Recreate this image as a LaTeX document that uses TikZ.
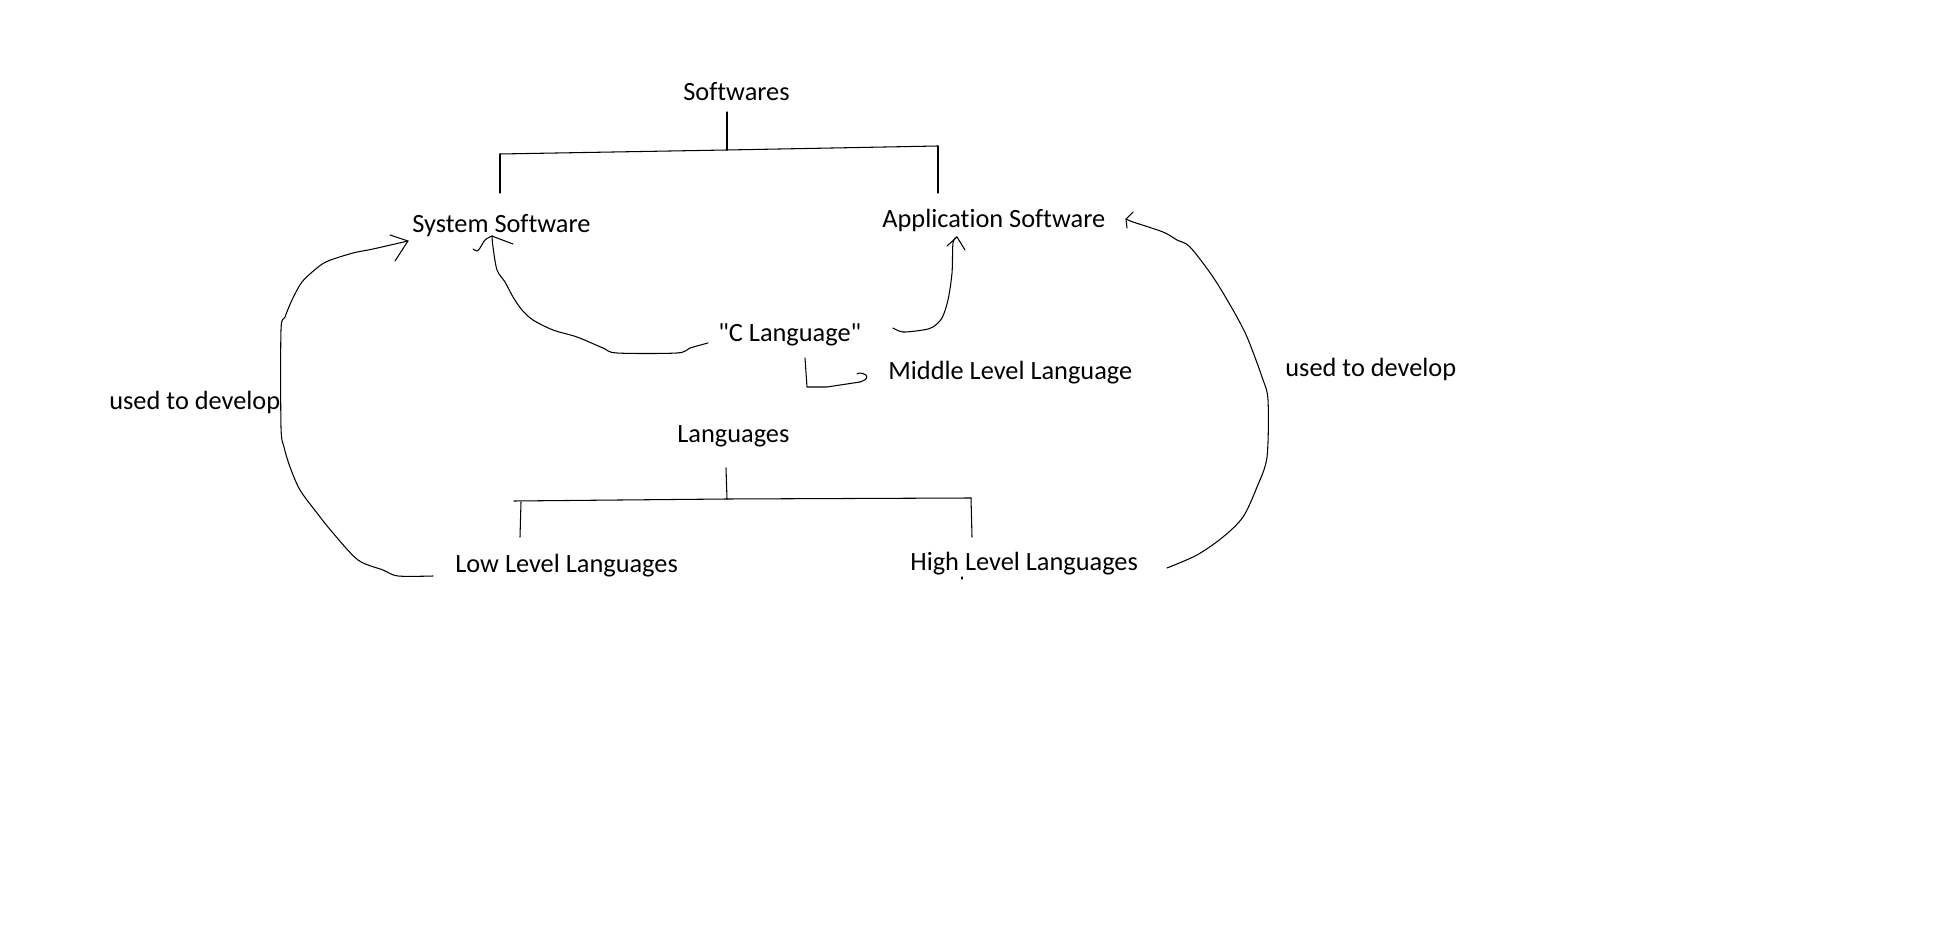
\documentclass[tikz,border=0pt]{standalone}
\usepackage{fontspec}
\setmainfont{Carlito}[Ligatures={TeXOff,NoCommon}]
\begin{document}
\begin{tikzpicture}[x=0.02cm,y=-0.02cm,
  lbl/.style={anchor=base west,inner sep=0pt,font=\fontsize{15pt}{18pt}\selectfont},
  ink/.style={line width=0.6pt,black,line join=round,line cap=round}]
\useasboundingbox (0,0) rectangle (1940,928);
% texts
\node[lbl] (soft) at (683,101) {Softwares};
\node[lbl] (sys) at (412,233) {System Software};
\node[lbl] (app) at (882,228) {Application Software};
\node[lbl] (clang) at (718,342) {"C Language"};
\node[lbl] (mid) at (888,380) {Middle Level Language};
\node[lbl] (lang) at (677,443) {Languages};
\node[lbl] (low) at (455,573) {Low Level Languages};
\node[lbl] (high) at (910,571) {High Level Languages};
\node[lbl] (udl) at (109,410) {used to develop};
\node[lbl] (udr) at (1285,377) {used to develop};
% software tree
\coordinate (sT) at (727,112); \coordinate (sM) at (727,150);
\coordinate (sL) at (500,154); \coordinate (sR) at (938,146);
\draw[ink] (sT) -- (sM);
\draw[ink] (sL) -- (sM) -- (sR);
\draw[ink] (sL) -- (500,193);
\draw[ink] (sR) -- (938,193);
% languages tree
\coordinate (lT) at (726,468); \coordinate (lM) at (727,499);
\coordinate (lL) at (514,501); \coordinate (lR) at (971,498);
\draw[ink] (lT) -- (lM);
\draw[ink] (lL) -- (lM) -- (lR);
\draw[ink] (521,502) -- (520,537);
\draw[ink] (lR) -- (972,537);
% left big arrow: Low Level -> System Software
\coordinate (lowS) at (433,576); \coordinate (sysTip) at (408,241);
\draw[ink] plot[smooth,tension=0.5] coordinates {(lowS) (398,576) (383,570) (358,560) (333,533) (317,513) (300,490) (290,467) (284,447) (281,427) (281,330) (285,317) (292,300) (302,282) (317,268) (328,261) (353,253) (373,249) (sysTip)};
\draw[ink] (390,235) -- (sysTip) -- (395,261);
% right big arrow: High Level -> Application Software
\coordinate (highS) at (1167,568); \coordinate (appTip) at (1126,219);
\draw[ink] plot[smooth,tension=0.5] coordinates {(highS) (1197,555) (1223,537) (1243,517) (1257,487) (1267,457) (1268,400) (1262,377) (1247,337) (1233,310) (1213,277) (1190,247) (1177,240) (1163,232) (1133,222) (appTip)};
\draw[ink] (1133,212) -- (appTip) -- (1127,228);
% C Language -> System Software
\coordinate (cS1) at (708,343); \coordinate (sysTip2) at (492,236);
\draw[ink] plot[smooth,tension=0.5] coordinates {(cS1) (690,348) (677,353) (617,353) (603,348) (577,337) (553,330) (533,320) (522,310) (513,297) (505,282) (497,270) (493,247) (sysTip2)};
\draw[ink] plot[smooth,tension=0.5] coordinates {(473,249) (477,251) (480,248) (485,240) (sysTip2)};
\draw[ink] (sysTip2) -- (497,238) -- (513,244);
% C Language -> Application Software
\coordinate (cS2) at (893,328); \coordinate (appTip2) at (957,237);
\draw[ink] plot[smooth,tension=0.5] coordinates {(cS2) (903,332) (923,330) (933,327) (942,318) (948,300) (952,273) (953,243) (appTip2)};
\draw[ink] (947,246) -- (appTip2) -- (965,250);
% C Language -> Middle Level Language
\coordinate (cS3) at (805,358); \coordinate (midTip) at (866,377);
\draw[ink] (cS3) -- (807,387) -- (827,387) -- (860,382);
\draw[ink] plot[smooth,tension=0.6] coordinates {(860,382) (866,379) (866,375) (860,373) (857,374)};
% stray mark
\draw[ink] (962,577) -- (962,579);
\end{tikzpicture}
\end{document}
